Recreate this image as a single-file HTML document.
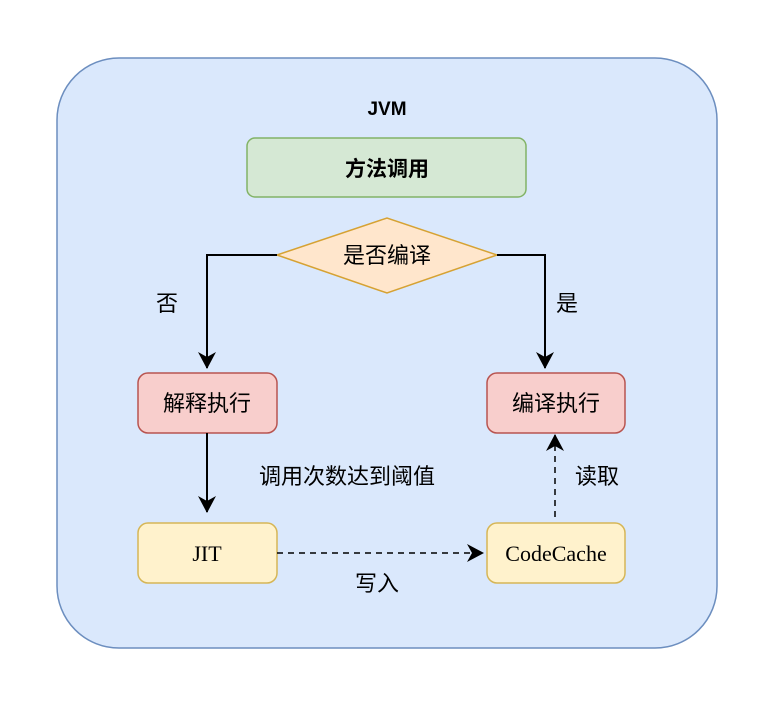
<!DOCTYPE html>
<html><head><meta charset="utf-8"><style>
body{margin:0;background:#fff;}
svg text{font-family:"Liberation Sans","Noto Sans CJK SC",sans-serif;}
</style></head><body>
<svg width="772" height="712" xmlns="http://www.w3.org/2000/svg">
<defs><marker id="a" markerWidth="20" markerHeight="20" refX="16" refY="9" orient="auto" markerUnits="userSpaceOnUse"><path d="M0,0 L17,9 L0,18 L5,9 Z" fill="#000"/></marker></defs>
<rect x="57" y="58" width="660" height="590" rx="62" fill="#dae8fc" stroke="#6c8ebf" stroke-width="1.5"/>
<text x="387" y="115" font-size="19" font-weight="bold" text-anchor="middle">JVM</text>
<rect x="247" y="138" width="279" height="59" rx="8" fill="#d5e8d4" stroke="#82b366" stroke-width="1.5"/>
<text x="387" y="176" font-size="21" font-weight="bold" text-anchor="middle">方法调用</text>
<polygon points="277,255 387,218 497,255 387,293" fill="#ffe6cc" stroke="#d6a233" stroke-width="1.5"/>
<text x="387" y="263" font-size="22" text-anchor="middle">是否编译</text>
<rect x="138" y="373" width="139" height="60" rx="10" fill="#f8cecc" stroke="#b85450" stroke-width="1.5"/>
<text x="207" y="411" font-size="22" text-anchor="middle">解释执行</text>
<rect x="487" y="373" width="138" height="60" rx="10" fill="#f8cecc" stroke="#b85450" stroke-width="1.5"/>
<text x="556" y="411" font-size="22" text-anchor="middle">编译执行</text>
<rect x="138" y="523" width="139" height="60" rx="10" fill="#fff2cc" stroke="#d6b656" stroke-width="1.5"/>
<text x="207" y="561" font-size="22" text-anchor="middle" style="font-family:'Liberation Serif',serif">JIT</text>
<rect x="487" y="523" width="138" height="60" rx="10" fill="#fff2cc" stroke="#d6b656" stroke-width="1.5"/>
<text x="556" y="561" font-size="22" text-anchor="middle" style="font-family:'Liberation Serif',serif">CodeCache</text>
<path d="M277,255 H207 V368" fill="none" stroke="#000" stroke-width="2" marker-end="url(#a)"/>
<path d="M497,255 H545 V368" fill="none" stroke="#000" stroke-width="2" marker-end="url(#a)"/>
<path d="M207,433 V512" fill="none" stroke="#000" stroke-width="2" marker-end="url(#a)"/>
<path d="M277,553 H483" fill="none" stroke="#000" stroke-width="1.5" stroke-dasharray="6,5" marker-end="url(#a)"/>
<path d="M555,517 V435" fill="none" stroke="#000" stroke-width="1.5" stroke-dasharray="6,5" marker-end="url(#a)"/>
<text x="167" y="311" font-size="22" text-anchor="middle">否</text>
<text x="567" y="311" font-size="22" text-anchor="middle">是</text>
<text x="347" y="484" font-size="22" text-anchor="middle">调用次数达到阈值</text>
<text x="597" y="484" font-size="22" text-anchor="middle">读取</text>
<text x="377" y="591" font-size="22" text-anchor="middle">写入</text>
</svg>
</body></html>
